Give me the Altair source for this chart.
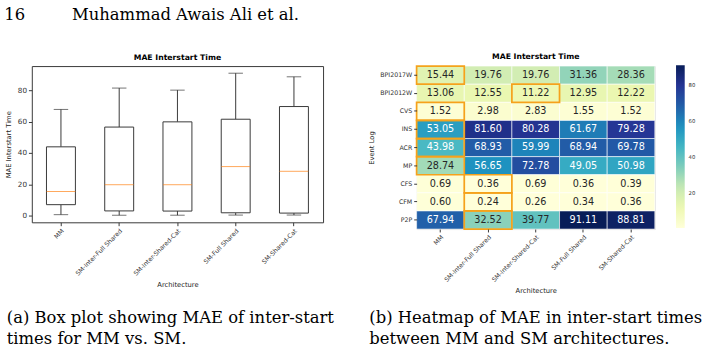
import altair as alt
import pandas as pd

# ---------------- data ----------------
archs = ["MM", "SM-Inter-Full Shared", "SM-Inter-Shared-Cat", "SM-Full Shared", "SM-Shared-Cat"]
logs = ["BPI2017W", "BPI2012W", "CVS", "INS", "ACR", "MP", "CFS", "CFM", "P2P"]

mae_mm = [15.44, 13.06, 1.52, 53.05, 43.98, 28.74, 0.69, 0.60, 67.94]
mae_inter_full = [19.76, 12.55, 2.98, 81.60, 68.93, 56.65, 0.36, 0.24, 32.52]
mae_inter_cat = [19.76, 11.22, 2.83, 80.28, 59.99, 72.78, 0.69, 0.26, 39.77]
mae_full = [31.36, 12.95, 1.55, 61.67, 68.94, 49.05, 0.36, 0.34, 91.11]
mae_cat = [28.36, 12.22, 1.52, 79.28, 69.78, 50.98, 0.39, 0.36, 88.81]
mae_cols = [mae_mm, mae_inter_full, mae_inter_cat, mae_full, mae_cat]

# best (highlighted) architecture per event log
best_arch = ["MM", "SM-Inter-Shared-Cat", "MM", "MM", "MM", "MM",
             "SM-Inter-Full Shared", "SM-Inter-Full Shared", "SM-Inter-Full Shared"]

# box plot statistics
box_min = [0.60, 0.24, 0.26, 0.34, 0.36]
box_q1 = [7.0, 3.0, 2.9, 1.8, 1.6]
box_med = [15.44, 19.76, 19.76, 31.36, 28.36]
box_q3 = [44.0, 56.65, 59.99, 61.67, 69.78]
box_max = [67.94, 81.60, 80.28, 91.11, 88.81]

header_text = "16" + "\u00a0" * 9 + "Muhammad Awais Ali et al."
caption_a = ["(a) Box plot showing MAE of inter-start\ntimes for MM vs. SM."]
caption_b = ["(b) Heatmap of MAE in inter-start times\nbetween MM and SM architectures."]

ylgnbu = ["#ffffd9", "#edf8b1", "#c7e9b4", "#7fcdbb", "#41b6c4",
          "#1d91c0", "#225ea8", "#253494", "#081d58"]

SANS = "DejaVu Sans"
SERIF = "DejaVu Serif"
INK = "#333333"
CAP_SIZE = 17

# ---------------- box plot ----------------
box_df = pd.DataFrame({"arch": archs, "lo": box_min, "q1": box_q1,
                       "med": box_med, "q3": box_q3, "hi": box_max})

bx = alt.X("arch:N", sort=archs,
           scale=alt.Scale(paddingInner=0, paddingOuter=0),
           axis=alt.Axis(title="Architecture", labelAngle=-45, labelFontSize=6.5,
                         labelFont=SANS, labelColor=INK, tickColor=INK, tickSize=3.5,
                         domain=False, titleFont=SANS, titleFontSize=7,
                         titleFontWeight="normal", titleColor="#222", titlePadding=4))
yscale = alt.Scale(domain=[-4.3, 95.66], nice=False, zero=False)
yaxis = alt.Axis(title="MAE Interstart Time", values=[0, 20, 40, 60, 80], grid=False,
                 domain=False, labelFontSize=7.5, labelFont=SANS, labelColor=INK,
                 tickColor=INK, tickSize=3.5, titleFont=SANS, titleFontSize=7,
                 titleFontWeight="normal", titleColor="#222", titlePadding=6)

bbase = alt.Chart(box_df).encode(x=bx)
w_lo = bbase.mark_rule(color=INK, strokeWidth=1).encode(
    y=alt.Y("lo:Q", scale=yscale, axis=yaxis), y2="q1:Q")
w_hi = bbase.mark_rule(color=INK, strokeWidth=1).encode(y="q3:Q", y2="hi:Q")
c_lo = bbase.mark_tick(size=15, thickness=1, color=INK).encode(y="lo:Q")
c_hi = bbase.mark_tick(size=15, thickness=1, color=INK).encode(y="hi:Q")
boxes = bbase.mark_bar(size=30, fill="white", stroke=INK, strokeWidth=1).encode(
    y="q1:Q", y2="q3:Q")
meds = bbase.mark_tick(size=30, thickness=1, color="#ff7f0e").encode(y="med:Q")

cap_a = alt.Chart(pd.DataFrame({"t": caption_a})).mark_text(
    font=SERIF, fontSize=CAP_SIZE, align="left", baseline="middle", color="black",
    lineBreak="\n", lineHeight=22
).encode(x=alt.value(-26), y=alt.value(261), text="t:N")

left = alt.layer(w_lo, w_hi, c_lo, c_hi, boxes, meds, cap_a).properties(
    width=302, height=162,
    title=alt.TitleParams("MAE Interstart Time", font=SANS, fontSize=8,
                          fontWeight="bold", color="black", offset=4),
    view=alt.ViewBackground(stroke=INK, strokeWidth=1),
)

# ---------------- heatmap ----------------
rows = []
for a, col in zip(archs, mae_cols):
    for lg, v in zip(logs, col):
        rows.append({"arch": a, "log": lg, "v": v})
heat_df = pd.DataFrame(rows)
hl_df = pd.DataFrame({"log": logs, "arch": best_arch})

hx = alt.X("arch:N", sort=archs, scale=alt.Scale(paddingInner=0, paddingOuter=0),
           axis=alt.Axis(title="Architecture", labelAngle=-45, labelFontSize=6.5,
                         labelFont=SANS, labelColor=INK, tickColor=INK, tickSize=3,
                         domain=False, titleFont=SANS, titleFontSize=7,
                         titleFontWeight="normal", titleColor="#222", titlePadding=4))
hy = alt.Y("log:N", sort=logs, scale=alt.Scale(paddingInner=0, paddingOuter=0),
           axis=alt.Axis(title="Event Log", labelFontSize=6.5, labelFont=SANS,
                         labelColor=INK, tickColor=INK, tickSize=3, domain=False,
                         titleFont=SANS, titleFontSize=7, titleFontWeight="normal",
                         titleColor="#222", titlePadding=5))

hbase = alt.Chart(heat_df).encode(x=hx, y=hy)
cells = hbase.mark_rect(stroke="white", strokeWidth=0.6).encode(
    color=alt.Color("v:Q",
                    scale=alt.Scale(domain=[0.24, 91.11], range=ylgnbu, interpolate="rgb"),
                    legend=alt.Legend(title=None, orient="none", legendX=668, legendY=-1,
                                      direction="vertical", gradientLength=169,
                                      gradientThickness=9, values=[20, 40, 60, 80],
                                      labelFontSize=5.5, labelFont=SANS, labelColor=INK,
                                      gradientStrokeWidth=0, labelOffset=4, padding=0)))
labels = hbase.mark_text(font=SANS, fontSize=10).encode(
    text=alt.Text("v:Q", format=".2f"),
    color=alt.condition("datum.v > 41", alt.value("white"), alt.value("#262626")))
hl = alt.Chart(hl_df).mark_rect(fillOpacity=0, fill="white", stroke="#f5a21b",
                                strokeWidth=1.8).encode(
    x=alt.X("arch:N", sort=archs), y=alt.Y("log:N", sort=logs))
cap_b = alt.Chart(pd.DataFrame({"t": caption_b})).mark_text(
    font=SERIF, fontSize=CAP_SIZE, align="left", baseline="middle", color="black",
    lineBreak="\n", lineHeight=22
).encode(x=alt.value(-49), y=alt.value(261), text="t:N")

right = alt.layer(cells, labels, hl, cap_b).properties(
    width=247, height=169,
    title=alt.TitleParams("MAE Interstart Time", font=SANS, fontSize=8,
                          fontWeight="bold", color="black", offset=4),
)

chart = alt.hconcat(left, right, spacing=97, bounds="flush").properties(
    padding={"left": 4, "top": 0, "right": 0, "bottom": 0},
    title=alt.TitleParams(header_text, anchor="start", font=SERIF, fontSize=CAP_SIZE,
                          fontWeight="normal", color="black", offset=29, dy=-1),
).configure_view(stroke=None).configure(background="white")

chart.save("out.html", embed_options={"renderer": "svg", "actions": False})
